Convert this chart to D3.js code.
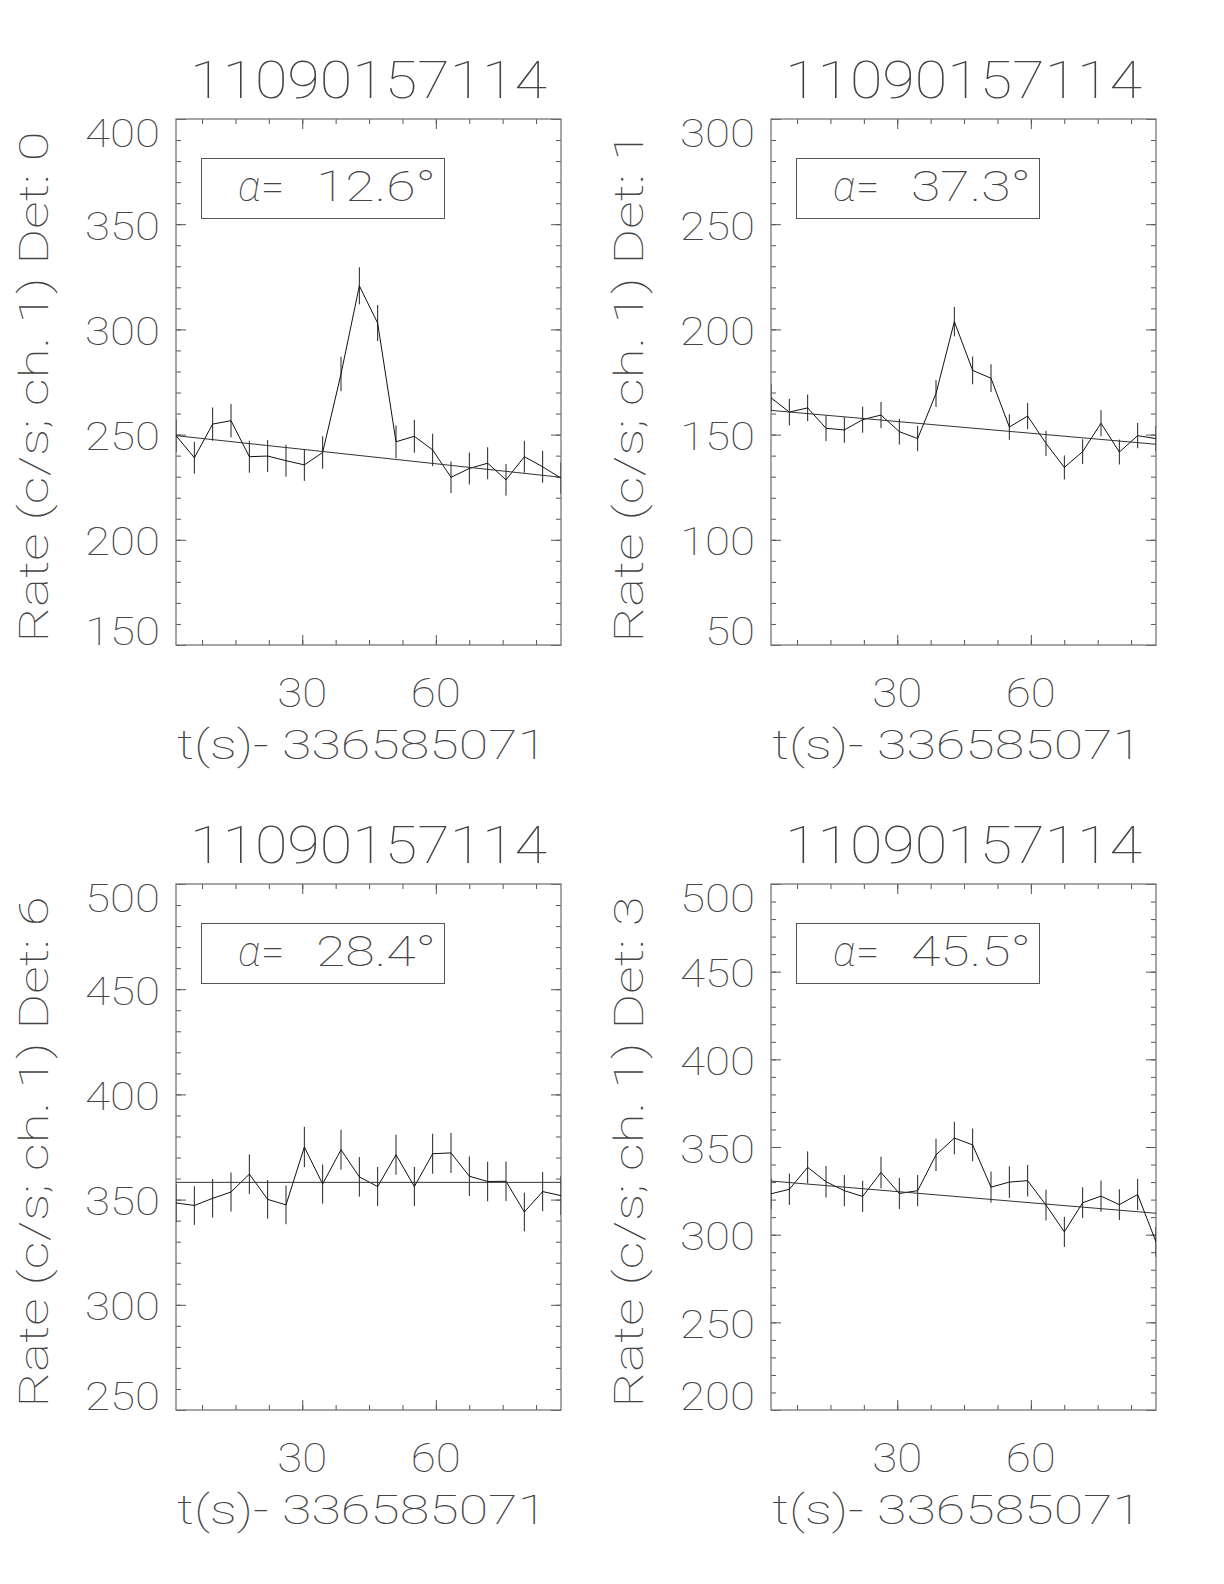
<!DOCTYPE html>
<html><head><meta charset="utf-8">
<script src="https://cdn.jsdelivr.net/npm/d3@7"></script>
<style>
html,body{margin:0;padding:0;background:#fff;}
svg text{font-family:"Roboto","Lato","DejaVu Sans",sans-serif;font-weight:100;fill:#444;}
</style></head><body>
<svg id="chart" width="1224" height="1584"></svg>
<script>
// ---------- data ----------
const times = [1.65, 5.77, 9.88, 14.0, 18.12, 22.23, 26.35, 30.47, 34.58, 38.7, 42.82,
               46.93, 51.05, 55.17, 59.28, 63.4, 67.52, 71.63, 75.75, 79.87, 83.98, 88.1];
const xDomain = [1.65, 88.1];
const xTickLabels = [30, 60];
const xMinorTicks = [7.5, 15, 22.5, 30, 37.5, 45, 52.5, 60, 67.5, 75, 82.5];
const xTitle = "t(s)- 336585071";

const titles = ["11090157114", "11090157114", "11090157114", "11090157114"];
const detectors = ["0", "1", "6", "3"];
const alphas = ["12.6", "37.3", "28.4", "45.5"];
const yDomains = [[150, 400], [50, 300], [250, 500], [200, 500]];
const yTickLabels = [
  [150, 200, 250, 300, 350, 400],
  [50, 100, 150, 200, 250, 300],
  [250, 300, 350, 400, 450, 500],
  [200, 250, 300, 350, 400, 450, 500]
];

const rates0 = [249.5, 239, 255, 256.6, 239.5, 239.8, 237.6, 235.6, 241.5, 278.8, 320.7,
                303, 246.6, 249.2, 242.7, 229.7, 233.9, 236.4, 228.5, 239.5, 234.7, 229.3];
const errs0  = [7.8, 7.6, 7.9, 7.9, 7.6, 7.6, 7.6, 7.6, 7.7, 8.2, 8.8,
                8.6, 7.8, 7.8, 7.7, 7.5, 7.6, 7.6, 7.5, 7.6, 7.6, 7.5];
const fit0   = [249.5, 229.7];

const rates1 = [167.5, 160.7, 162.7, 153, 152.2, 157.1, 159.3, 151.4, 148.1, 169.5, 203.7,
                180.5, 176.8, 153.6, 158.8, 145.8, 134.4, 141.9, 155.4, 141.7, 149.5, 148.1];
const errs1  = [6.4, 6.3, 6.3, 6.1, 6.1, 6.2, 6.2, 6.1, 6.0, 6.4, 7.0,
                6.6, 6.6, 6.1, 6.2, 6.0, 5.7, 5.9, 6.2, 5.9, 6.0, 6.0];
const fit1   = [161.5, 145.4];

const rates2 = [348.4, 347.2, 350.6, 353.6, 362.1, 350.1, 347.5, 375, 357.4, 373.7, 360.8,
                356.2, 371.3, 356.2, 371.8, 372.2, 361.1, 358.6, 358.7, 344.1, 353.8, 351.9];
const errs2  = [9.2, 9.2, 9.2, 9.3, 9.4, 9.2, 9.2, 9.6, 9.3, 9.5, 9.4,
                9.3, 9.5, 9.3, 9.5, 9.5, 9.4, 9.4, 9.4, 9.2, 9.3, 9.3];
const fit2   = [358.2, 358.2];

const rates3 = [323.3, 325.9, 338.4, 330.2, 325.1, 321.8, 335.5, 323.5, 325.1, 345.5, 355.1,
                351.2, 327.1, 330, 330.8, 316.9, 301.6, 318.2, 322, 317.1, 322.9, 295.9];
const errs3  = [8.9, 8.9, 9.1, 9.0, 8.9, 8.9, 9.0, 8.9, 8.9, 9.2, 9.3,
                9.3, 8.9, 9.0, 9.0, 8.8, 8.6, 8.8, 8.9, 8.8, 8.9, 8.5];
const fit3   = [330.6, 312.2];

const allRates = [rates0, rates1, rates2, rates3];
const allErrs = [errs0, errs1, errs2, errs3];
const allFits = [fit0, fit1, fit2, fit3];

// ---------- layout ----------
const W = 385, H = 526;
const origins = [[176, 119], [771, 119], [176, 884], [771, 884]];

const svg = d3.select("#chart");
svg.append("rect").attr("width", 1224).attr("height", 1584).attr("fill", "#fff");

const tickColor = "#555";
function styleTicks(sel) {
  sel.select(".domain").remove();
  sel.selectAll("line").attr("stroke", tickColor).attr("stroke-width", 1);
  sel.selectAll("text").remove();
}

for (let i = 0; i < 4; i++) {
  const [ox, oy] = origins[i];
  const g = svg.append("g").attr("transform", `translate(${ox},${oy})`);
  const x = d3.scaleLinear().domain(xDomain).range([0, W]);
  const y = d3.scaleLinear().domain(yDomains[i]).range([H, 0]);
  const [ylo, yhi] = yDomains[i];
  const yMinor = d3.range(ylo, yhi + 0.001, 10);
  const yMajor = yTickLabels[i];

  // ticks on all four sides, pointing inward
  g.append("g").call(d3.axisLeft(y).tickValues(yMinor).tickSize(-5).tickFormat("")).call(styleTicks);
  g.append("g").call(d3.axisLeft(y).tickValues(yMajor).tickSize(-10).tickFormat("")).call(styleTicks);
  g.append("g").attr("transform", `translate(${W},0)`)
    .call(d3.axisRight(y).tickValues(yMinor).tickSize(-5).tickFormat("")).call(styleTicks);
  g.append("g").attr("transform", `translate(${W},0)`)
    .call(d3.axisRight(y).tickValues(yMajor).tickSize(-10).tickFormat("")).call(styleTicks);
  g.append("g").attr("transform", `translate(0,${H})`)
    .call(d3.axisBottom(x).tickValues(xMinorTicks).tickSize(-5).tickFormat("")).call(styleTicks);
  g.append("g").attr("transform", `translate(0,${H})`)
    .call(d3.axisBottom(x).tickValues(xTickLabels).tickSize(-10).tickFormat("")).call(styleTicks);
  g.append("g")
    .call(d3.axisTop(x).tickValues(xMinorTicks).tickSize(-5).tickFormat("")).call(styleTicks);
  g.append("g")
    .call(d3.axisTop(x).tickValues(xTickLabels).tickSize(-10).tickFormat("")).call(styleTicks);

  // box
  g.append("rect").attr("x", 0).attr("y", 0).attr("width", W).attr("height", H)
    .attr("fill", "none").attr("stroke", "#777").attr("stroke-width", 1.3);

  // y tick labels (clamped inside the box range)
  yMajor.forEach(v => {
    let cy = y(v) + 1.5;
    cy = Math.max(14, Math.min(H - 14, cy));
    g.append("text").attr("x", -16).attr("y", cy + 14)
      .attr("text-anchor", "end").attr("font-size", 39)
      .attr("textLength", String(v).length * 25).attr("lengthAdjust", "spacingAndGlyphs")
      .text(v);
  });

  // x tick labels
  xTickLabels.forEach(v => {
    g.append("text").attr("x", x(v)).attr("y", H + 62)
      .attr("text-anchor", "middle").attr("font-size", 40)
      .attr("textLength", 50).attr("lengthAdjust", "spacingAndGlyphs")
      .text(v);
  });

  // titles
  g.append("text").attr("x", W / 2).attr("y", -21).attr("text-anchor", "middle")
    .attr("font-size", 52).attr("textLength", 357).attr("lengthAdjust", "spacingAndGlyphs")
    .text(titles[i]);
  g.append("text").attr("x", 186).attr("y", H + 114).attr("text-anchor", "middle")
    .attr("font-size", 40).attr("textLength", 370).attr("lengthAdjust", "spacingAndGlyphs")
    .text(xTitle);
  g.append("text").attr("transform", `translate(-128,${H / 2 + 5}) rotate(-90)`)
    .attr("text-anchor", "middle").attr("font-size", 40)
    .attr("textLength", 511).attr("lengthAdjust", "spacingAndGlyphs")
    .text(`Rate (c/s; ch. 1) Det: ${detectors[i]}`);

  // annotation box
  g.append("rect").attr("x", 25.5).attr("y", 39.5).attr("width", 243).attr("height", 60)
    .attr("fill", "none").attr("stroke", "#555").attr("stroke-width", 1);
  g.append("text").attr("x", 62).attr("y", 82).attr("font-size", 42)
    .html('<tspan font-style="italic">α</tspan>=');
  g.append("text").attr("x", 140).attr("y", 82).attr("font-size", 42)
    .attr("textLength", 120).attr("lengthAdjust", "spacingAndGlyphs")
    .text(`${alphas[i]}°`);

  // data
  const rates = allRates[i], errs = allErrs[i], fit = allFits[i];
  const pts = times.map((t, k) => ({ t, v: rates[k], e: errs[k] }));
  const clip = `clip${i}`;
  g.append("clipPath").attr("id", clip).append("rect").attr("width", W).attr("height", H);
  const dg = g.append("g").attr("clip-path", `url(#${clip})`);

  dg.selectAll("line.err").data(pts).join("line").attr("class", "err")
    .attr("x1", d => x(d.t)).attr("x2", d => x(d.t))
    .attr("y1", d => y(d.v - d.e)).attr("y2", d => y(d.v + d.e))
    .attr("stroke", "#222").attr("stroke-width", 1);

  dg.append("path").datum(pts)
    .attr("d", d3.line().x(d => x(d.t)).y(d => y(d.v)))
    .attr("fill", "none").attr("stroke", "#111").attr("stroke-width", 1);

  dg.append("line")
    .attr("x1", x(times[0])).attr("y1", y(fit[0]))
    .attr("x2", x(times[times.length - 1])).attr("y2", y(fit[1]))
    .attr("stroke", "#333").attr("stroke-width", 1);
}
</script></body></html>
